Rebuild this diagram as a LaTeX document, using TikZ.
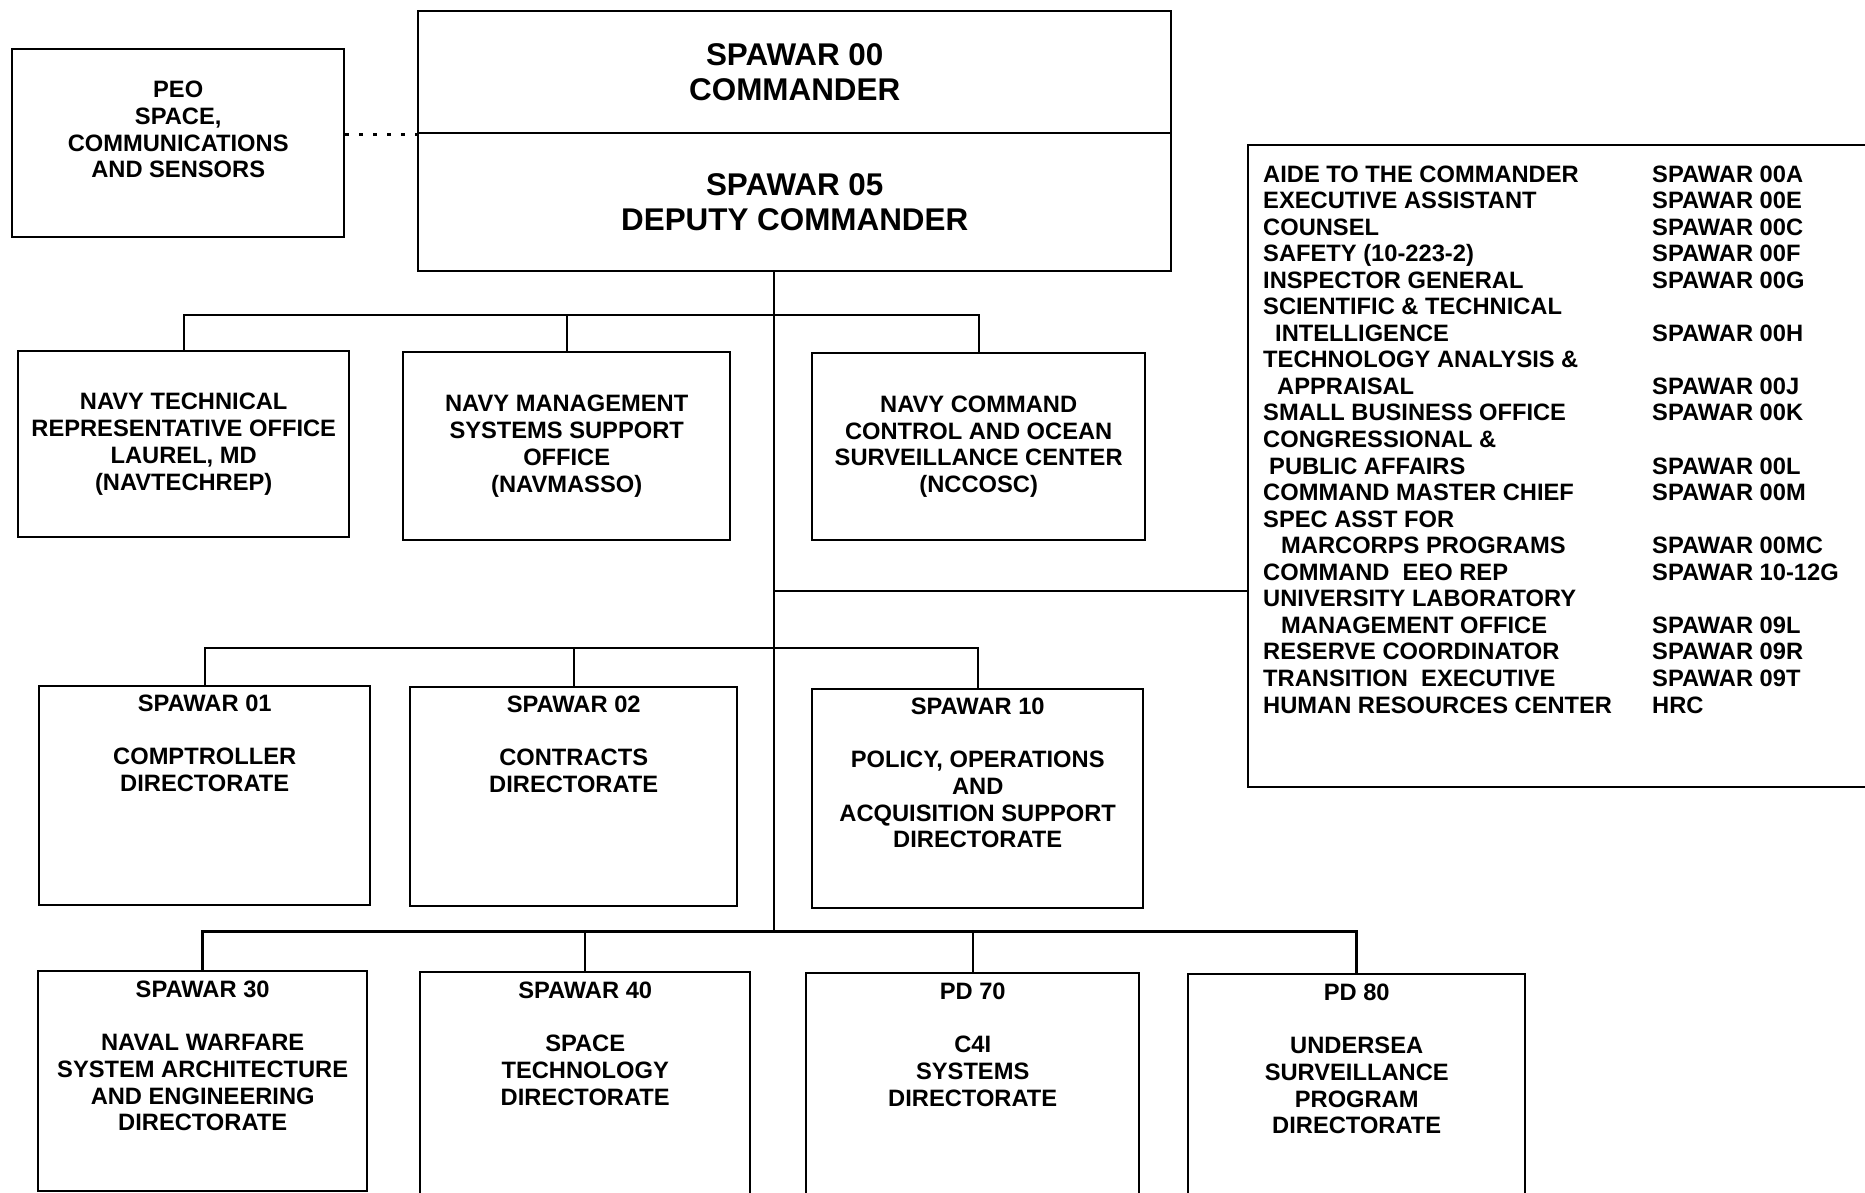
\documentclass[tikz,border=0pt]{standalone}
\usepackage{fontspec}
\setmainfont{Liberation Sans}
\usetikzlibrary{positioning}

\tikzset{
  orgbox/.style={draw, line width=2.4pt, inner sep=0pt, anchor=north west},
  orgtext/.style={font=\fontsize{23.7}{26.7}\selectfont\bfseries, align=center, inner sep=0pt},
  toptext/.style={font=\fontsize{31.4}{34.5}\selectfont\bfseries, align=center, inner sep=0pt},
  listtext/.style={font=\fontsize{23.7}{26.55}\selectfont\bfseries, inner sep=0pt, anchor=base west},
  link/.style={line width=2.2pt},
}

\begin{document}
\begin{tikzpicture}[x=1pt,y=-1pt]
  \useasboundingbox (0,0) rectangle (1865,1192);
  \fill[white] (0,0) rectangle (1865,1192);

  % commander, deputy and PEO
  \node[orgbox, toptext, minimum width=753pt, minimum height=122pt] (cmd) at (417,10) {SPAWAR 00\\COMMANDER};
  \node[orgbox, toptext, minimum width=753pt, minimum height=138pt] (dep) at (417,132) {SPAWAR 05\\DEPUTY COMMANDER};
  \node[orgbox, minimum width=332pt, minimum height=188pt] (peo) at (11,48) {};
  \node[orgtext, below=33pt of peo.north] (peot) {PEO\\SPACE,\\COMMUNICATIONS\\AND SENSORS};
  \draw[line width=3.5pt, dash pattern=on 3.5pt off 10.5pt] (peo.east |- cmd.south west) -- (cmd.south west);

  % first row
  \node[orgbox, orgtext, minimum width=331pt, minimum height=186pt] (navtech) at (17,350) {NAVY TECHNICAL\\REPRESENTATIVE OFFICE\\LAUREL, MD\\(NAVTECHREP)};
  \node[orgbox, orgtext, minimum width=327pt, minimum height=188pt] (navmasso) at (402,351) {NAVY MANAGEMENT\\SYSTEMS SUPPORT\\OFFICE\\(NAVMASSO)};
  \node[orgbox, orgtext, minimum width=333pt, minimum height=187pt] (nccosc) at (811,352) {NAVY COMMAND\\CONTROL AND OCEAN\\SURVEILLANCE CENTER\\(NCCOSC)};

  % second row
  \node[orgbox, minimum width=331pt, minimum height=219pt] (s01) at (38,685) {};
  \node[orgtext, below=9.5pt of s01.north] (s01t) {SPAWAR 01\\[26.7pt]COMPTROLLER\\DIRECTORATE};
  \node[orgbox, minimum width=327pt, minimum height=219pt] (s02) at (409,686) {};
  \node[orgtext, below=9.5pt of s02.north] (s02t) {SPAWAR 02\\[26.7pt]CONTRACTS\\DIRECTORATE};
  \node[orgbox, minimum width=331pt, minimum height=219pt] (s10) at (811,688) {};
  \node[orgtext, below=9.5pt of s10.north] (s10t) {SPAWAR 10\\[26.7pt]POLICY, OPERATIONS\\AND\\ACQUISITION SUPPORT\\DIRECTORATE};

  % third row
  \node[orgbox, minimum width=329pt, minimum height=220pt] (s30) at (37,970) {};
  \node[orgtext, below=10.5pt of s30.north] (s30t) {SPAWAR 30\\[26.7pt]NAVAL WARFARE\\SYSTEM ARCHITECTURE\\AND ENGINEERING\\DIRECTORATE};
  \node[orgbox, minimum width=330pt, minimum height=240pt] (s40) at (419,971) {};
  \node[orgtext, below=10.5pt of s40.north] (s40t) {SPAWAR 40\\[26.7pt]SPACE\\TECHNOLOGY\\DIRECTORATE};
  \node[orgbox, minimum width=333pt, minimum height=240pt] (pd70) at (805,972) {};
  \node[orgtext, below=10.5pt of pd70.north] (pd70t) {PD 70\\[26.7pt]C4I\\SYSTEMS\\DIRECTORATE};
  \node[orgbox, minimum width=337pt, minimum height=240pt] (pd80) at (1187,973) {};
  \node[orgtext, below=10.5pt of pd80.north] (pd80t) {PD 80\\[26.7pt]UNDERSEA\\SURVEILLANCE\\PROGRAM\\DIRECTORATE};

  % staff offices
  \node[orgbox, minimum width=640pt, minimum height=642pt] (staff) at (1247,144) {};
  \node[listtext] (stafflist) at (1263,182) {\begin{tabular}[t]{@{}p{389pt}@{}l@{}}
    AIDE TO THE COMMANDER & SPAWAR 00A\\
    EXECUTIVE ASSISTANT & SPAWAR 00E\\
    COUNSEL & SPAWAR 00C\\
    SAFETY (10-223-2) & SPAWAR 00F\\
    INSPECTOR GENERAL & SPAWAR 00G\\
    SCIENTIFIC \& TECHNICAL & \\
    \hspace*{12pt}INTELLIGENCE & SPAWAR 00H\\
    TECHNOLOGY ANALYSIS \& & \\
    \hspace*{14pt}APPRAISAL & SPAWAR 00J\\
    SMALL BUSINESS OFFICE & SPAWAR 00K\\
    CONGRESSIONAL \& & \\
    \hspace*{6pt}PUBLIC AFFAIRS & SPAWAR 00L\\
    COMMAND MASTER CHIEF & SPAWAR 00M\\
    SPEC ASST FOR & \\
    \hspace*{18pt}MARCORPS PROGRAMS & SPAWAR 00MC\\
    COMMAND\ \ EEO REP & SPAWAR 10-12G\\
    UNIVERSITY LABORATORY & \\
    \hspace*{18pt}MANAGEMENT OFFICE & SPAWAR 09L\\
    RESERVE COORDINATOR & SPAWAR 09R\\
    TRANSITION\ \ EXECUTIVE & SPAWAR 09T\\
    HUMAN RESOURCES CENTER & HRC
  \end{tabular}};

  % connectors
  \coordinate (trunk) at (774,270);
  \coordinate (bus1) at (774,315);
  \coordinate (bus2) at (774,648);
  \coordinate (bus3) at (774,931);
  \coordinate (stafflink) at (774,591);
  \draw[link] (trunk) -- (bus3);
  \draw[link] (navtech.north) |- (bus1) -| (nccosc.north);
  \draw[link] (navmasso.north) -- (navmasso.north |- bus1);
  \draw[link] (s01.north) |- (bus2) -| (s10.north);
  \draw[link] (s02.north) -- (s02.north |- bus2);
  \draw[link, line width=3pt] (s30.north) |- (bus3) -| (pd80.north);
  \draw[link] (s40.north) -- (s40.north |- bus3);
  \draw[link] (pd70.north) -- (pd70.north |- bus3);
  \draw[link] (stafflink) -- (stafflink -| staff.west);
\end{tikzpicture}
\end{document}
